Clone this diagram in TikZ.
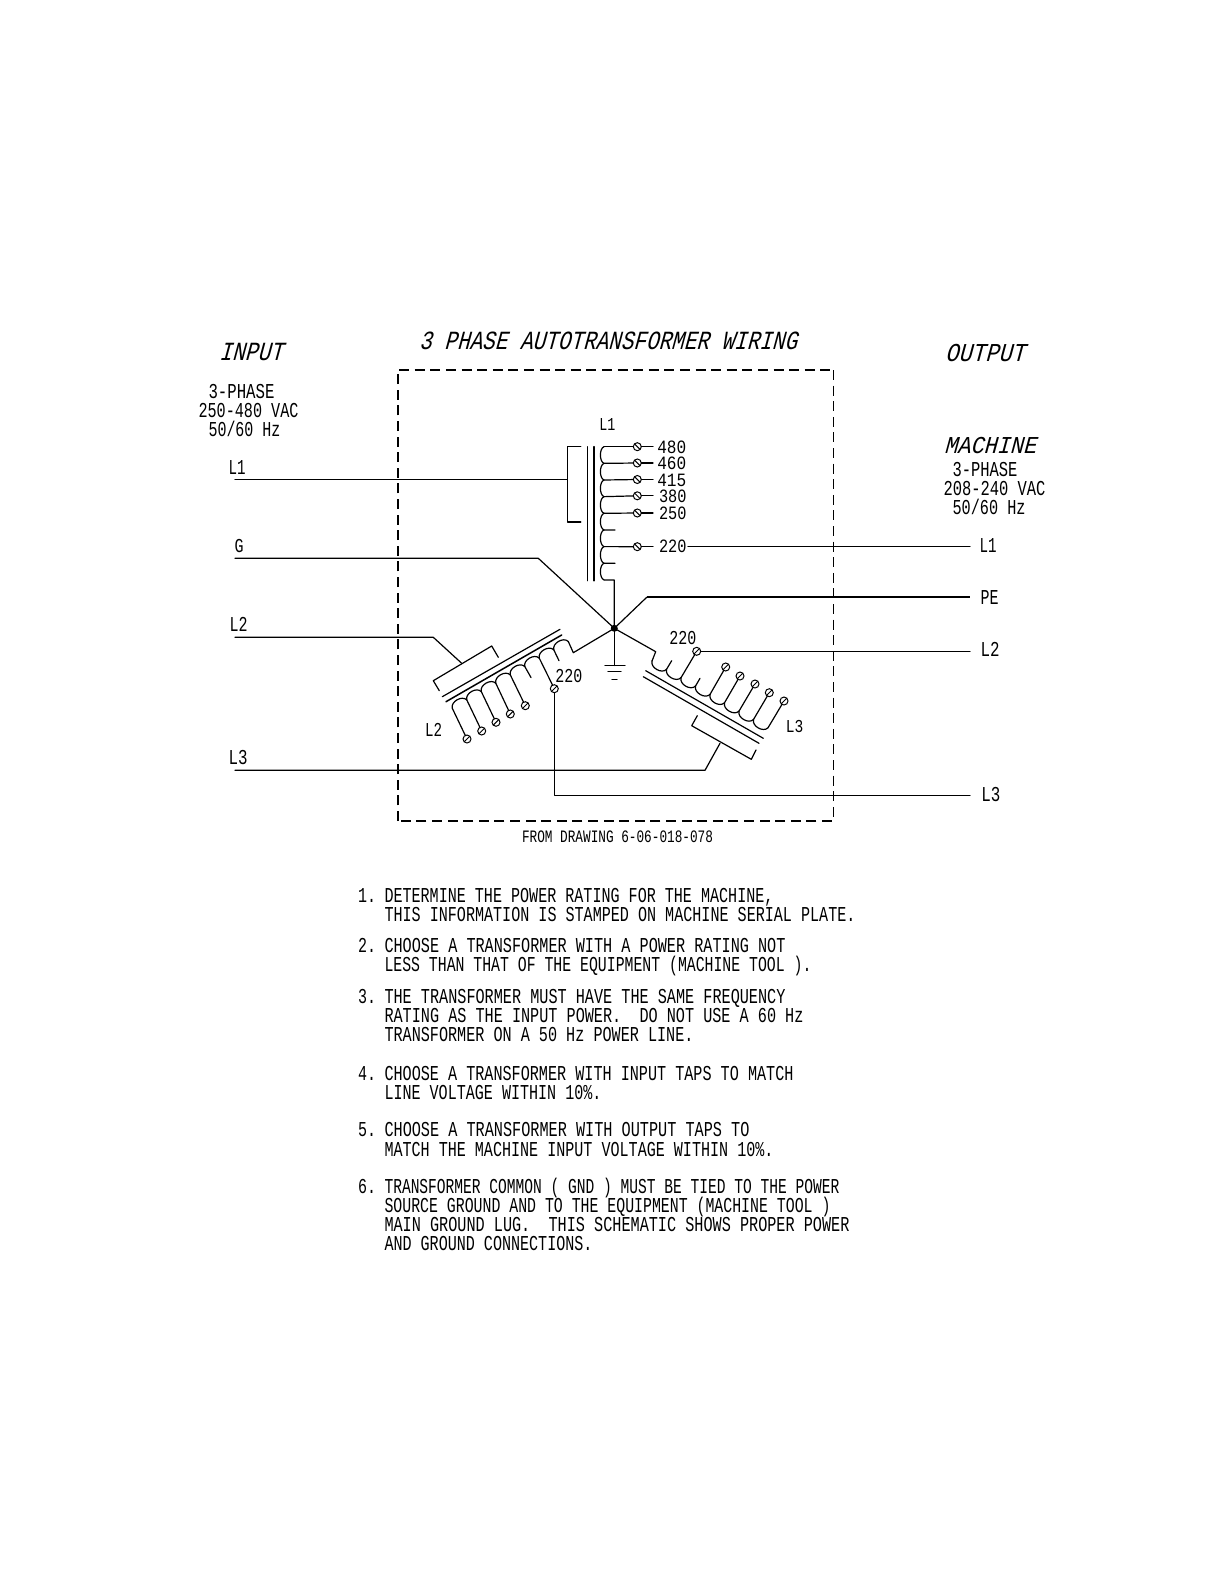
\documentclass[tikz,border=0pt]{standalone}
\usepackage{fontspec}
\usepackage{graphicx}
\setmainfont{Liberation Mono}
\usetikzlibrary{calc}
\tikzset{
  wire/.style={line width=1.2pt,line cap=round,line join=round,black},
  heavy/.style={line width=2.2pt,line join=round,black},
  boxthick/.style={line width=1.9pt,dash pattern=on 10pt off 5.6pt},
  boxthin/.style={line width=1.2pt,dash pattern=on 10pt off 5.6pt},
  lbl/.style={anchor=base west,inner sep=0pt,outer sep=0pt,text=black},
  ital/.style={lbl,xslant=0.27,transform shape},
  tapc/.style={circle,draw,line width=1pt,fill=white,minimum size=8pt,inner sep=0pt,outer sep=0pt},
  slashf/.style={tapc,path picture={\draw[line width=1pt] (path picture bounding box.south west) -- (path picture bounding box.north east);}},
  slashb/.style={tapc,path picture={\draw[line width=1pt] (path picture bounding box.north west) -- (path picture bounding box.south east);}},
}
\newlength\twd
% #1 style, #2 name, #3 x, #4 baseline y, #5 width, #6 cap height, #7 text
\newcommand\putlbl[7]{%
  \node[#1] (#2) at (#3,#4) {%
    \settowidth\twd{\fontsize{10pt}{12pt}\selectfont #7}%
    \pgfmathsetmacro\sx{#5/\twd}%
    \pgfmathsetmacro\sy{#6/6.6}%
    \scalebox{\sx}[\sy]{\fontsize{10pt}{12pt}\selectfont #7}};%
}
% #1 #2 origin, #3 #4 step, #5 #6 direction of the bulge, #7 arches, #8 depth, #9 name prefix
\newcommand\coilrun[9]{%
  \foreach \i in {0,...,#7}{%
    \coordinate (#9j\i) at ({#1+\i*(#3)},{#2+\i*(#4)});%
  }%
  \foreach \i in {1,...,#7}{%
    \pgfmathtruncatemacro\p{\i-1}%
    \draw[wire] (#9j\p) .. controls ($(#9j\p)+({1.33*#8*(#5)+0.1*(#3)},{1.33*#8*(#6)+0.1*(#4)})$)
      and ($(#9j\i)+({1.33*#8*(#5)-0.1*(#3)},{1.33*#8*(#6)-0.1*(#4)})$) .. (#9j\i);%
  }%
}
\begin{document}
\begin{tikzpicture}[x=1pt,y=-1pt]
\useasboundingbox (0,0) rectangle (1224,1584);
\fill[white] (0,0) rectangle (1224,1584);

% dashed enclosure
\coordinate (bTL) at (397.7,370);
\coordinate (bTR) at (833.3,370);
\coordinate (bBR) at (833.3,821);
\coordinate (bBL) at (397.7,821);
\draw[boxthick] (bBL) -- (bTL) -- (bTR);
\draw[boxthin] (bTR) -- (bBR) -- (bBL);

% titles
\putlbl{ital}{title}{419}{349.3}{378}{17.3}{3 PHASE AUTOTRANSFORMER WIRING}
\putlbl{ital}{input}{219}{360.7}{64}{17.3}{INPUT}
\putlbl{ital}{output}{945}{361.7}{80}{17}{OUTPUT}
\putlbl{ital}{machine}{944}{453.3}{92}{16}{MACHINE}

% left block
\putlbl{lbl}{ipa}{208.5}{398.3}{66}{14}{3-PHASE}
\putlbl{lbl}{ipb}{198.5}{417.3}{100}{14}{250-480 VAC}
\putlbl{lbl}{ipc}{208.5}{436.7}{72}{14}{50/60 Hz}
\putlbl{lbl}{lblLa}{228.5}{474}{17}{14}{L1}
\putlbl{lbl}{lblG}{234.7}{552.7}{9}{13}{G}
\putlbl{lbl}{lblLb}{229.7}{631.7}{18}{14}{L2}
\putlbl{lbl}{lblLc}{228.5}{764}{19}{14}{L3}

% right block
\putlbl{lbl}{opa}{952.5}{476}{65}{14}{3-PHASE}
\putlbl{lbl}{opb}{943.5}{495}{102}{14}{208-240 VAC}
\putlbl{lbl}{opc}{952.5}{514.3}{73}{14}{50/60 Hz}
\putlbl{lbl}{lblRa}{979.7}{552.3}{17}{14}{L1}
\putlbl{lbl}{lblPE}{980.7}{604}{18}{14}{PE}
\putlbl{lbl}{lblRb}{980.7}{656.7}{19}{14}{L2}
\putlbl{lbl}{lblRc}{981.3}{801.7}{19}{14}{L3}

% hub and ground
\coordinate (hub) at (614.3,628.3);
\coordinate (gnd) at (614.3,665.5);
\draw[wire] (hub) -- (gnd);
\coordinate (gAl) at (605,665.7); \coordinate (gAr) at (625,665.7);
\coordinate (gBl) at (608,671.7); \coordinate (gBr) at (621,671.7);
\coordinate (gCl) at (612,679.3); \coordinate (gCr) at (617,679.3);
\draw[wire] (gAl) -- (gAr);
\draw[wire] (gBl) -- (gBr);
\draw[wire] (gCl) -- (gCr);

% ---------- top winding
\putlbl{lbl}{topL}{599.3}{430.7}{16}{12}{L1}
\coordinate (coreAa) at (587.3,446.7); \coordinate (coreAb) at (587.3,580.7);
\coordinate (coreBa) at (594,446.7);   \coordinate (coreBb) at (594,580.7);
\draw[wire] (coreAa) -- (coreAb);
\draw[wire,line width=1.7pt] (coreBa) -- (coreBb);
\coordinate (brA) at (580.7,446.7); \coordinate (brB) at (567.3,446.7);
\coordinate (brC) at (567.3,522);   \coordinate (brD) at (580.7,522);
\draw[wire,line width=1.5pt] (brA) -- (brB) -- (brC) -- (brD);
\coordinate (inLa) at (235,479.3); \coordinate (inLb) at (567.3,479.3);
\draw[wire] (inLa) -- (inLb);
\coilrun{604}{446.7}{0}{16.65}{-1}{0}{8}{3.6}{ct}
\foreach \v/\k/\y/\tx/\by/\w in {480/0/446.7/657.3/453.3/29,460/1/463/657.3/469/29,415/2/479.5/657.3/486/29,380/3/495.8/659/502.3/27.5,250/4/513/659/519.3/27.5,220/6/546.7/659/552.7/27.5}{
  \node[slashb] (t\v) at (637.3,\y) {};
  \coordinate (s\v) at (653,\y);
  \draw[wire] (ctj\k) -- (t\v);
  \draw[wire] (t\v) -- (s\v);
  \putlbl{lbl}{v\v}{\tx}{\by}{\w}{12.4}{\v}
}
\coordinate (stA) at (615,530); \coordinate (stB) at (615,563.3);
\draw[wire] (ctj5) -- (stA);
\draw[wire] (ctj7) -- (stB);
\coordinate (ctE) at (614.2,580);
\draw[wire] (ctj8) -- (ctE) -- (hub);
\coordinate (otA) at (688,546.7); \coordinate (otB) at (970,546.7);
\draw[wire] (otA) -- (otB);

% G and PE
\coordinate (gA) at (235,558.3); \coordinate (gB) at (538.3,558.3);
\draw[wire] (gA) -- (gB) -- (hub);
\coordinate (peB) at (646.7,597.3); \coordinate (peC) at (970,597.3);
\draw[wire] (hub) -- (peB);
\draw[heavy] (peB) -- (peC);

% ---------- lower left winding
\coordinate (llAa) at (560,629.3);   \coordinate (llAb) at (442.3,696.7);
\coordinate (llBa) at (561.7,635);   \coordinate (llBb) at (446,701.7);
\draw[wire] (llAa) -- (llAb);
\draw[wire,line width=1.5pt] (llBa) -- (llBb);
\coordinate (lbrA) at (439.3,690.7); \coordinate (lbrB) at (433.3,680.7);
\coordinate (lbrC) at (491.7,646);   \coordinate (lbrD) at (498.3,657.3);
\draw[wire] (lbrA) -- (lbrB) -- (lbrC) -- (lbrD);
\coordinate (inMa) at (235,637.3); \coordinate (inMb) at (433.3,637.3); \coordinate (inMc) at (461.7,663.3);
\draw[wire] (inMa) -- (inMb) -- (inMc);
\coilrun{452.3}{708.3}{14.5}{-8.35}{-0.5}{-0.866}{8}{5}{cl}
\coordinate (clE) at (573.3,652.7);
\draw[wire] (clj8) -- (clE) -- (hub);
\node[slashf] (la) at (467,739) {};
\node[slashf] (lb) at (481.7,731) {};
\node[slashf] (lc) at (496,722.3) {};
\node[slashf] (ld) at (510.3,714) {};
\node[slashf] (le) at (525.3,705.7) {};
\node[slashf] (lf) at (554.3,688.7) {};
\draw[wire] (clj0) -- (la);
\draw[wire] (clj1) -- (lb);
\draw[wire] (clj2) -- (lc);
\draw[wire] (clj3) -- (ld);
\draw[wire] (clj4) -- (le);
\draw[wire] (clj6) -- (lf);
\coordinate (lsA) at (531,677.5); \coordinate (lsB) at (559,660.7);
\draw[wire] (clj5) -- (lsA);
\draw[wire] (clj7) -- (lsB);
\putlbl{lbl}{vLL}{555.3}{682.3}{27}{13}{220}
\putlbl{lbl}{lblIn}{425.2}{736.7}{17}{13}{L2}
\coordinate (ouCa) at (554.3,795.3); \coordinate (ouCb) at (970,795.3);
\draw[wire] (lf) -- (ouCa) -- (ouCb);

% ---------- lower right winding
\coordinate (lrAa) at (645.7,670.7); \coordinate (lrAb) at (763.3,738.3);
\coordinate (lrBa) at (643.3,676.7); \coordinate (lrBb) at (759,743.3);
\draw[wire] (lrAa) -- (lrAb);
\draw[wire] (lrBa) -- (lrBb);
\coordinate (rbrA) at (697.3,715.7); \coordinate (rbrB) at (691.7,725.7);
\coordinate (rbrC) at (751.3,759.3); \coordinate (rbrD) at (756,750);
\draw[wire] (rbrA) -- (rbrB) -- (rbrC) -- (rbrD);
\coordinate (inNa) at (235,770.3); \coordinate (inNb) at (705,770.3); \coordinate (inNc) at (720,743.3);
\draw[wire] (inNa) -- (inNb) -- (inNc);
\coilrun{652}{661}{14.5}{8.35}{-0.5}{0.866}{8}{5}{cr}
\coordinate (crE) at (655.7,651.7);
\draw[wire] (hub) -- (crE) -- (crj0);
\node[slashf] (rv) at (696.7,651.3) {};
\node[slashf] (ra) at (725.7,667) {};
\node[slashf] (rb) at (740,676) {};
\node[slashf] (rc) at (755,684) {};
\node[slashf] (rd) at (769.3,692.7) {};
\node[slashf] (re) at (784,701) {};
\draw[wire] (crj2) -- (rv);
\draw[wire] (crj4) -- (ra);
\draw[wire] (crj5) -- (rb);
\draw[wire] (crj6) -- (rc);
\draw[wire] (crj7) -- (rd);
\draw[wire] (crj8) -- (re);
\coordinate (rsA) at (671.7,660.7); \coordinate (rsB) at (700,678.3);
\draw[wire] (crj1) -- (rsA);
\draw[wire] (crj3) -- (rsB);
\putlbl{lbl}{vLR}{669.3}{644}{27}{13}{220}
\putlbl{lbl}{lblIr}{785.8}{732.7}{17.5}{12}{L3}
\coordinate (ouB) at (970,651.3);
\draw[wire] (rv) -- (ouB);

% caption
\putlbl{lbl}{cap}{522}{842.7}{191}{11.5}{FROM DRAWING 6-06-018-078}

% notes
\putlbl{lbl}{na}{358}{902.3}{18}{14}{1.}
\putlbl{lbl}{naa}{384.5}{902.3}{389}{14}{DETERMINE THE POWER RATING FOR THE MACHINE,}
\putlbl{lbl}{nab}{384.5}{921}{471}{14}{THIS INFORMATION IS STAMPED ON MACHINE SERIAL PLATE.}
\putlbl{lbl}{nb}{358}{952.7}{18}{14}{2.}
\putlbl{lbl}{nba}{384.5}{952.7}{401}{14}{CHOOSE A TRANSFORMER WITH A POWER RATING NOT}
\putlbl{lbl}{nbb}{384.5}{971}{427}{14}{LESS THAN THAT OF THE EQUIPMENT (MACHINE TOOL ).}
\putlbl{lbl}{nc}{358}{1003.3}{18}{14}{3.}
\putlbl{lbl}{nca}{384.5}{1003.3}{401}{14}{THE TRANSFORMER MUST HAVE THE SAME FREQUENCY}
\putlbl{lbl}{ncb}{384.5}{1022.7}{419}{14}{RATING AS THE INPUT POWER.\ \ DO NOT USE A 60 Hz}
\putlbl{lbl}{ncc}{384.5}{1041.7}{309}{14}{TRANSFORMER ON A 50 Hz POWER LINE.}
\putlbl{lbl}{nd}{358}{1080}{18}{14}{4.}
\putlbl{lbl}{nda}{384.5}{1080}{409}{14}{CHOOSE A TRANSFORMER WITH INPUT TAPS TO MATCH}
\putlbl{lbl}{ndb}{384.5}{1099.3}{217}{14}{LINE VOLTAGE WITHIN 10\%.}
\putlbl{lbl}{ne}{358}{1136.7}{18}{14}{5.}
\putlbl{lbl}{nea}{384.5}{1136.7}{365}{14}{CHOOSE A TRANSFORMER WITH OUTPUT TAPS TO}
\putlbl{lbl}{neb}{384.5}{1156}{389}{14}{MATCH THE MACHINE INPUT VOLTAGE WITHIN 10\%.}
\putlbl{lbl}{nf}{358}{1193.3}{18}{14}{6.}
\putlbl{lbl}{nfa}{384.5}{1193.3}{455}{14}{TRANSFORMER COMMON ( GND ) MUST BE TIED TO THE POWER}
\putlbl{lbl}{nfb}{384.5}{1212.7}{446}{14}{SOURCE GROUND AND TO THE EQUIPMENT (MACHINE TOOL )}
\putlbl{lbl}{nfc}{384.5}{1231.7}{465}{14}{MAIN GROUND LUG.\ \ THIS SCHEMATIC SHOWS PROPER POWER}
\putlbl{lbl}{nfd}{384.5}{1250}{208}{14}{AND GROUND CONNECTIONS.}

% hub dot
\node[circle,fill=black,minimum size=7pt,inner sep=0pt] (hubdot) at (hub) {};
\end{tikzpicture}
\end{document}
